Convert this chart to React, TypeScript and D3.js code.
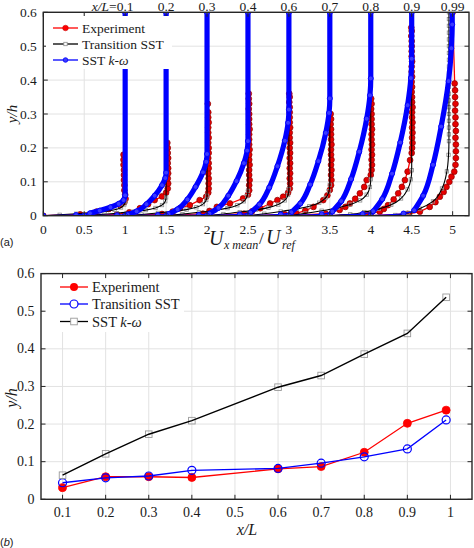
import React from "react";
import * as d3 from "d3";

// ---------- DATA ----------
const stations = ["0.1", "0.2", "0.3", "0.4", "0.6", "0.7", "0.8", "0.9", "0.99"];
const stationOffsets = [0, 0.5, 1, 1.5, 2, 2.5, 3, 3.5, 4];

// Panel (a) velocity profiles: [U/Uref, y/h]
const expProfiles: number[][][] = [
  [[0,0],[0.45,0.004],[0.65,0.012],[0.8,0.02],[0.94,0.031],[0.99,0.04],[1.005,0.05],[1.0,0.062],[0.99,0.075],[0.99,0.09],[0.985,0.105],[0.985,0.12],[0.985,0.135],[0.98,0.15],[0.98,0.165],[0.98,0.18]],
  [[0,0],[0.4,0.004],[0.55,0.01],[0.68,0.022],[0.78,0.034],[0.86,0.046],[0.95,0.057],[1.0,0.068],[1.02,0.08],[1.025,0.095],[1.02,0.11],[1.025,0.125],[1.025,0.14],[1.02,0.155],[1.025,0.17],[1.02,0.185],[1.02,0.2],[1.015,0.215]],
  [[0,0],[0.45,0.005],[0.58,0.012],[0.67,0.022],[0.79,0.031],[0.91,0.046],[0.99,0.056],[1.015,0.068],[1.02,0.08],[1.02,0.095],[1.02,0.11],[1.015,0.125],[1.02,0.14],[1.02,0.155],[1.015,0.17],[1.02,0.185],[1.02,0.2],[1.015,0.215],[1.02,0.23],[1.015,0.245],[1.015,0.26],[1.02,0.275],[1.015,0.29],[1.015,0.305],[1.01,0.33]],
  [[0,0],[0.45,0.006],[0.53,0.014],[0.62,0.026],[0.78,0.036],[0.94,0.051],[1.0,0.062],[1.015,0.075],[1.015,0.09],[1.02,0.105],[1.015,0.12],[1.015,0.135],[1.02,0.15],[1.015,0.165],[1.015,0.18],[1.02,0.195],[1.015,0.21],[1.015,0.225],[1.015,0.24],[1.02,0.255],[1.015,0.27],[1.015,0.285],[1.015,0.3],[1.01,0.315],[1.015,0.33],[1.01,0.345],[1.01,0.36]],
  [[0,0],[0.45,0.006],[0.55,0.013],[0.65,0.022],[0.77,0.036],[0.86,0.046],[0.93,0.056],[0.99,0.068],[1.01,0.08],[1.015,0.095],[1.01,0.11],[1.015,0.125],[1.01,0.14],[1.015,0.155],[1.01,0.17],[1.015,0.185],[1.01,0.2],[1.015,0.215],[1.01,0.23],[1.01,0.245],[1.015,0.26],[1.01,0.275],[1.01,0.29],[1.01,0.305],[1.01,0.32],[1.005,0.335],[1.01,0.35],[1.005,0.36]],
  [[0,0],[0.45,0.004],[0.59,0.007],[0.7,0.015],[0.8,0.026],[0.92,0.046],[0.97,0.06],[1.0,0.076],[1.015,0.09],[1.02,0.105],[1.015,0.12],[1.02,0.135],[1.015,0.15],[1.02,0.165],[1.015,0.18],[1.015,0.195],[1.02,0.21],[1.015,0.225],[1.015,0.24],[1.015,0.255],[1.01,0.27],[1.015,0.285],[1.01,0.3]],
  [[0,0],[0.45,0.006],[0.62,0.017],[0.69,0.026],[0.745,0.036],[0.81,0.05],[0.867,0.066],[0.92,0.085],[0.95,0.105],[1.0,0.12],[1.01,0.135],[1.015,0.15],[1.01,0.165],[1.015,0.18],[1.01,0.195],[1.015,0.21],[1.01,0.225],[1.01,0.24],[1.015,0.255],[1.01,0.27],[1.01,0.285],[1.01,0.3],[1.005,0.315],[1.01,0.33],[1.005,0.345]],
  [[0,0],[0.45,0.005],[0.61,0.012],[0.66,0.02],[0.71,0.031],[0.78,0.048],[0.835,0.066],[0.88,0.085],[0.917,0.105],[0.95,0.13],[0.98,0.164],[1.0,0.185],[1.005,0.2],[1.01,0.215],[1.005,0.23],[1.01,0.245],[1.005,0.26],[1.01,0.275],[1.005,0.29],[1.005,0.305],[1.01,0.32],[1.005,0.335],[1.005,0.35],[1.0,0.365],[1.005,0.38],[1.0,0.395],[1.005,0.41],[1.0,0.425],[1.0,0.44],[1.005,0.455],[1.0,0.47],[1.0,0.485],[1.0,0.5],[1.0,0.515],[0.995,0.53],[1.0,0.545],[0.995,0.555]],
  [[0,0],[0.45,0.005],[0.6,0.012],[0.72,0.026],[0.79,0.04],[0.844,0.056],[0.89,0.07],[0.925,0.085],[0.96,0.1],[0.986,0.115],[1.02,0.13],[1.035,0.15],[1.04,0.17],[1.04,0.19],[1.04,0.21],[1.035,0.23],[1.04,0.25],[1.035,0.27],[1.035,0.29],[1.03,0.31],[1.035,0.33],[1.03,0.35],[1.03,0.37],[1.025,0.39],[1.0,0.6]],
];

const transProfiles: number[][][] = [
  [[0,0],[0.2,0.0026],[0.4,0.0057],[0.6,0.0092],[0.75,0.0128],[0.87,0.0176],[0.95,0.0242],[0.99,0.033],[1.0,0.0418],[1.0,0.6]],
  [[0,0],[0.2,0.0034],[0.4,0.0074],[0.6,0.012],[0.75,0.0165],[0.87,0.0228],[0.95,0.0314],[0.99,0.0428],[1.0,0.0542],[1.0,0.6]],
  [[0,0],[0.2,0.0037],[0.4,0.0081],[0.6,0.013],[0.75,0.018],[0.87,0.0248],[0.95,0.0341],[0.99,0.0465],[1.0,0.0589],[1.0,0.6]],
  [[0,0],[0.2,0.0046],[0.4,0.01],[0.6,0.0162],[0.75,0.0223],[0.87,0.0308],[0.95,0.0424],[0.99,0.0578],[1.0,0.0732],[1.0,0.6]],
  [[0,0],[0.2,0.0049],[0.4,0.0107],[0.6,0.0172],[0.75,0.0238],[0.87,0.0328],[0.95,0.0451],[0.99,0.0615],[1.0,0.0779],[1.0,0.6]],
  [[0,0],[0.2,0.0058],[0.4,0.0125],[0.6,0.0202],[0.75,0.0278],[0.87,0.0384],[0.95,0.0528],[0.99,0.072],[1.0,0.0912],[1.0,0.6]],
  [[0,0],[0.2,0.0068],[0.4,0.0147],[0.6,0.0237],[0.75,0.0328],[0.87,0.0452],[0.95,0.0622],[0.99,0.0848],[1.0,0.1074],[1.0,0.6]],
  [[0,0],[0.25,0.004],[0.42,0.0107],[0.6,0.0201],[0.75,0.0322],[0.87,0.0509],[0.95,0.0777],[0.99,0.1072],[1.0,0.134],[1.0,0.6]],
  [[0,0],[0.3,0.0021],[0.45,0.0084],[0.6,0.0211],[0.76,0.0422],[0.87,0.0802],[0.93,0.1308],[0.95,0.1794],[0.955,0.22],[0.955,0.24],[0.955,0.26],[0.955,0.28],[0.955,0.3],[0.955,0.32],[0.955,0.34],[0.955,0.36],[0.955,0.38],[0.955,0.4],[0.955,0.42],[0.955,0.44],[0.955,0.46],[0.955,0.48],[0.955,0.5],[0.955,0.52],[0.955,0.54],[0.955,0.56],[0.955,0.58],[0.955,0.6]],
];

const sstProfiles: number[][][] = [
  [[0,0],[0.4,0.002],[0.57,0.007],[0.69,0.015],[0.82,0.025],[0.92,0.035],[0.98,0.046],[1.0,0.06],[1.0,0.6]],
  [[0,0],[0.4,0.0015],[0.53,0.0036],[0.64,0.013],[0.76,0.034],[0.86,0.059],[0.95,0.09],[0.99,0.111],[1.0,0.127],[1.0,0.6]],
  [[0,0],[0.4,0.002],[0.53,0.005],[0.64,0.019],[0.76,0.048],[0.86,0.085],[0.95,0.128],[0.99,0.159],[1.0,0.182],[1.0,0.6]],
  [[0,0],[0.4,0.0025],[0.53,0.006],[0.64,0.023],[0.76,0.059],[0.86,0.102],[0.95,0.155],[0.99,0.192],[1.0,0.22],[1.0,0.6]],
  [[0,0],[0.4,0.0036],[0.53,0.009],[0.64,0.033],[0.76,0.083],[0.86,0.146],[0.95,0.221],[0.99,0.274],[1.0,0.313],[1.0,0.6]],
  [[0,0],[0.4,0.004],[0.53,0.01],[0.64,0.036],[0.76,0.092],[0.86,0.161],[0.95,0.244],[0.99,0.303],[1.0,0.346],[1.0,0.6]],
  [[0,0],[0.4,0.0046],[0.53,0.012],[0.64,0.043],[0.76,0.108],[0.86,0.189],[0.95,0.286],[0.99,0.355],[1.0,0.405],[1.0,0.6]],
  [[0,0],[0.4,0.005],[0.53,0.013],[0.64,0.049],[0.76,0.124],[0.86,0.216],[0.95,0.326],[0.99,0.406],[1.0,0.463],[1.0,0.6]],
  [[0,0],[0.4,0.0064],[0.53,0.016],[0.64,0.059],[0.76,0.15],[0.86,0.263],[0.95,0.397],[0.985,0.494],[0.995,0.564],[0.995,0.6]],
];

// Panel (b): boundary-layer thickness vs x/L
const xL = [0.1, 0.2, 0.3, 0.4, 0.6, 0.7, 0.8, 0.9, 0.99];
const expDelta = [0.031, 0.06, 0.06, 0.058, 0.081, 0.087, 0.125, 0.202, 0.237];
const transDelta = [0.044, 0.057, 0.062, 0.077, 0.082, 0.096, 0.113, 0.134, 0.211];
const sstDelta = [0.064, 0.121, 0.173, 0.209, 0.298, 0.329, 0.386, 0.441, 0.537];

const topXTicks = [0, 0.5, 1, 1.5, 2, 2.5, 3, 3.5, 4, 4.5, 5];
const yTicks = [0, 0.1, 0.2, 0.3, 0.4, 0.5, 0.6];
const botXTicks = [0.1, 0.2, 0.3, 0.4, 0.5, 0.6, 0.7, 0.8, 0.9, 1];

// ---------- STYLE ----------
const W = 474, H = 548;
const SERIF = "'Liberation Serif','Times New Roman','DejaVu Serif',serif";
const SANS = "'Liberation Sans',Arial,Helvetica,sans-serif";
const AX = "#262626";
const GRID = "#e2e2e2";
const RED = "#ff0000";
const BLUE = "#0000ff";
const INK = "#1a1a1a";

const topX = d3.scaleLinear().domain([0, 5.2]).range([43.3, 469]);
const topY = d3.scaleLinear().domain([0, 0.6]).range([215.7, 12.3]);
const botX = d3.scaleLinear().domain([0.05, 1.05]).range([41, 472]);
const botY = d3.scaleLinear().domain([0, 0.6]).range([499.3, 273.6]);

const fmt = (v: number) => (v === 0 ? "0" : String(+v.toFixed(2)));

function Grid({ sx, sy, xTicks, yt }: any) {
  const [x0, x1] = sx.range();
  const [y0, y1] = sy.range();
  return (
    <g>
      {xTicks.map((t: number) => (
        <line key={"gx" + t} x1={sx(t)} x2={sx(t)} y1={y0} y2={y1} stroke={GRID} strokeWidth={1} />
      ))}
      {yt.map((t: number) => (
        <line key={"gy" + t} x1={x0} x2={x1} y1={sy(t)} y2={sy(t)} stroke={GRID} strokeWidth={1} />
      ))}
    </g>
  );
}

function Axes({ sx, sy, xTicks, yt, fs }: any) {
  const [x0, x1] = sx.range();
  const [y0, y1] = sy.range();
  const tl = 4.5;
  return (
    <g>
      {xTicks.map((t: number) => (
        <g key={"tx" + t}>
          <line x1={sx(t)} x2={sx(t)} y1={y0} y2={y0 - tl} stroke={AX} strokeWidth={1} />
          <line x1={sx(t)} x2={sx(t)} y1={y1} y2={y1 + tl} stroke={AX} strokeWidth={1} />
          <text x={sx(t)} y={y0 + 18} fontSize={fs} textAnchor="middle" fontFamily={SERIF} fill={INK}>
            {fmt(t)}
          </text>
        </g>
      ))}
      {yt.map((t: number) => (
        <g key={"ty" + t}>
          <line x1={x0} x2={x0 + tl} y1={sy(t)} y2={sy(t)} stroke={AX} strokeWidth={1} />
          <line x1={x1} x2={x1 - tl} y1={sy(t)} y2={sy(t)} stroke={AX} strokeWidth={1} />
          <text x={x0 - 6.5} y={sy(t) + 4.5} fontSize={fs} textAnchor="end" fontFamily={SERIF} fill={INK}>
            {fmt(t)}
          </text>
        </g>
      ))}
      <rect x={x0} y={y1} width={x1 - x0} height={y0 - y1} fill="none" stroke={AX} strokeWidth={1.4} />
    </g>
  );
}

export default function App() {
  const lin = d3.line<number[]>().x((d) => d[0]).y((d) => d[1]);
  const smooth = d3.line<number[]>().x((d) => d[0]).y((d) => d[1]).curve(d3.curveMonotoneY);

  const proj = (i: number, p: number[][]) => p.map(([u, y]) => [topX(stationOffsets[i] + u), topY(y)]);

  const [tx0, tx1] = topX.range();
  const [ty0, ty1] = topY.range();

  const botPts = (vals: number[]) => vals.map((v, i) => [botX(xL[i]), botY(v)]);

  return (
    <svg width={W} height={H} style={{ position: "absolute", left: 0, top: 0, background: "#fff" }}>
      <defs>
        <clipPath id="clipTop">
          <rect x={tx0} y={ty1} width={tx1 - tx0} height={ty0 - ty1} />
        </clipPath>
      </defs>
      <rect x={0} y={0} width={W} height={H} fill="#fff" />

      {/* ================= PANEL (a) ================= */}
      <Grid sx={topX} sy={topY} xTicks={topXTicks} yt={yTicks} />
      <g clipPath="url(#clipTop)">
        {/* Experiment */}
        {expProfiles.map((p, i) => {
          const pts = proj(i, p);
          return (
            <g key={"e" + i}>
              <path d={lin(pts) || ""} fill="none" stroke={RED} strokeWidth={1.3} />
              {pts.map((q, j) => (
                <circle key={j} cx={q[0]} cy={q[1]} r={2.9} fill="#e60000" stroke="#8a0000" strokeWidth={0.7} />
              ))}
            </g>
          );
        })}
        {/* Transition SST */}
        {transProfiles.map((p, i) => {
          const pts = proj(i, p);
          return (
            <g key={"t" + i}>
              {pts.map((q, j) => (
                <rect key={j} x={q[0] - 1.7} y={q[1] - 1.7} width={3.4} height={3.4} fill="none" stroke="#8c8c8c" strokeWidth={0.8} />
              ))}
              <path d={smooth(pts) || ""} fill="none" stroke="#000" strokeWidth={1.1} />
            </g>
          );
        })}
        {/* SST k-omega */}
        {sstProfiles.map((p, i) => {
          const pts = proj(i, p);
          return (
            <g key={"s" + i}>
              <path d={smooth(pts) || ""} fill="none" stroke={BLUE} strokeWidth={1.3} />
              <path d={smooth(pts.slice(2)) || ""} fill="none" stroke={BLUE} strokeWidth={5.2} strokeLinecap="round" />
              {pts.map((q, j) => (
                <circle key={j} cx={q[0]} cy={q[1]} r={2.5} fill="#3a3aff" stroke={BLUE} strokeWidth={1} />
              ))}
            </g>
          );
        })}
      </g>
      <Axes sx={topX} sy={topY} xTicks={topXTicks} yt={yTicks} fs={13.5} />

      {/* station labels */}
      {stations.map((s, i) => (
        <text key={"sl" + i} x={topX(stationOffsets[i] + 1)} y={11} fontSize={13.5} textAnchor="middle" fontFamily={SERIF} fill={INK}>
          {s}
        </text>
      ))}
      <text x={topX(1) - 8.5} y={11} fontSize={13.5} textAnchor="end" fontFamily={SERIF} fill={INK}>
        <tspan fontStyle="italic">x/L</tspan>=
      </text>

      {/* legend (a) */}
      <rect x={46} y={16} width={126} height={53} fill="#fff" />
      {[
        { y: 28, c: RED, label: <tspan>Experiment</tspan>, m: "dotR" },
        { y: 44, c: "#000", label: <tspan>Transition SST</tspan>, m: "sq" },
        { y: 60, c: BLUE, label: <tspan>SST <tspan fontStyle="italic">k-ω</tspan></tspan>, m: "dotB" },
      ].map((e, i) => (
        <g key={"lga" + i}>
          <line x1={53} x2={78} y1={e.y} y2={e.y} stroke={e.c} strokeWidth={1.3} />
          {e.m === "dotR" && <circle cx={65.5} cy={e.y} r={2.8} fill={RED} stroke="#c00000" strokeWidth={0.5} />}
          {e.m === "dotB" && <circle cx={65.5} cy={e.y} r={2.3} fill="#3a3aff" stroke={BLUE} strokeWidth={0.8} />}
          {e.m === "sq" && <rect x={63.8} y={e.y - 1.7} width={3.4} height={3.4} fill="#fff" stroke="#8c8c8c" strokeWidth={0.8} />}
          <text x={82} y={e.y + 4.6} fontSize={13.5} fontFamily={SERIF} fill={INK}>
            {e.label}
          </text>
        </g>
      ))}

      {/* axis labels (a) */}
      <text transform={`translate(17,${(ty0 + ty1) / 2}) rotate(-90)`} textAnchor="middle" fontSize={15} fontStyle="italic" fontFamily={SERIF} fill={INK}>
        y/h
      </text>
      <text x={209} y={245} fontSize={20} fontStyle="italic" fontFamily={SERIF} fill={INK}>U</text>
      <text x={224} y={249} fontSize={12} fontStyle="italic" fontFamily={SERIF} fill={INK}>x mean</text>
      <text x={259} y={243.5} fontSize={17} fontFamily={SERIF} fill={INK}>/</text>
      <text x={266} y={243.5} fontSize={20} fontStyle="italic" fontFamily={SERIF} fill={INK}>U</text>
      <text x={282} y={249} fontSize={12} fontStyle="italic" fontFamily={SERIF} fill={INK}>ref</text>
      <text x={0} y={246} fontSize={11} fontFamily={SANS} fill={INK}>(a)</text>

      {/* ================= PANEL (b) ================= */}
      <Grid sx={botX} sy={botY} xTicks={botXTicks} yt={yTicks} />
      {/* Experiment */}
      <path d={lin(botPts(expDelta)) || ""} fill="none" stroke={RED} strokeWidth={1.3} />
      {botPts(expDelta).map((q, j) => (
        <circle key={"be" + j} cx={q[0]} cy={q[1]} r={4} fill={RED} stroke={RED} strokeWidth={0.8} />
      ))}
      {/* Transition SST */}
      <path d={lin(botPts(transDelta)) || ""} fill="none" stroke={BLUE} strokeWidth={1.3} />
      {botPts(transDelta).map((q, j) => (
        <circle key={"bt" + j} cx={q[0]} cy={q[1]} r={4} fill="none" stroke={BLUE} strokeWidth={1.2} />
      ))}
      {/* SST k-omega */}
      {botPts(sstDelta).map((q, j) => (
        <rect key={"bs" + j} x={q[0] - 3.3} y={q[1] - 3.3} width={6.6} height={6.6} fill="none" stroke="#9a9a9a" strokeWidth={0.9} />
      ))}
      <path d={lin(botPts(sstDelta)) || ""} fill="none" stroke="#000" strokeWidth={1.4} />

      {/* legend (b) */}
      <rect x={44} y={276} width={140} height={56} fill="#fff" />
      {[
        { y: 287, c: RED, label: <tspan>Experiment</tspan>, m: "fill" },
        { y: 304, c: BLUE, label: <tspan>Transition SST</tspan>, m: "open" },
        { y: 321.5, c: "#000", label: <tspan>SST <tspan fontStyle="italic">k-ω</tspan></tspan>, m: "sq" },
      ].map((e, i) => (
        <g key={"lgb" + i}>
          <line x1={60} x2={88} y1={e.y} y2={e.y} stroke={e.c} strokeWidth={1.3} />
          {e.m === "fill" && <circle cx={74} cy={e.y} r={4} fill={RED} />}
          {e.m === "open" && <circle cx={74} cy={e.y} r={4} fill="#fff" stroke={BLUE} strokeWidth={1.2} />}
          {e.m === "sq" && <rect x={70.7} y={e.y - 3.3} width={6.6} height={6.6} fill="#fff" stroke="#9a9a9a" strokeWidth={0.9} />}
          <text x={92} y={e.y + 5} fontSize={14.5} fontFamily={SERIF} fill={INK}>
            {e.label}
          </text>
        </g>
      ))}
      <Axes sx={botX} sy={botY} xTicks={botXTicks} yt={yTicks} fs={14} />

      <text transform={`translate(17,398) rotate(-90)`} textAnchor="middle" fontSize={16} fontStyle="italic" fontFamily={SERIF} fill={INK}>
        y/h
      </text>
      <text x={247} y={535} textAnchor="middle" fontSize={16} fontStyle="italic" fontFamily={SERIF} fill={INK}>
        x/L
      </text>
      <text x={0} y={546} fontSize={11} fontFamily={SANS} fill={INK}>
        (<tspan fontStyle="italic">b</tspan>)
      </text>
    </svg>
  );
}
